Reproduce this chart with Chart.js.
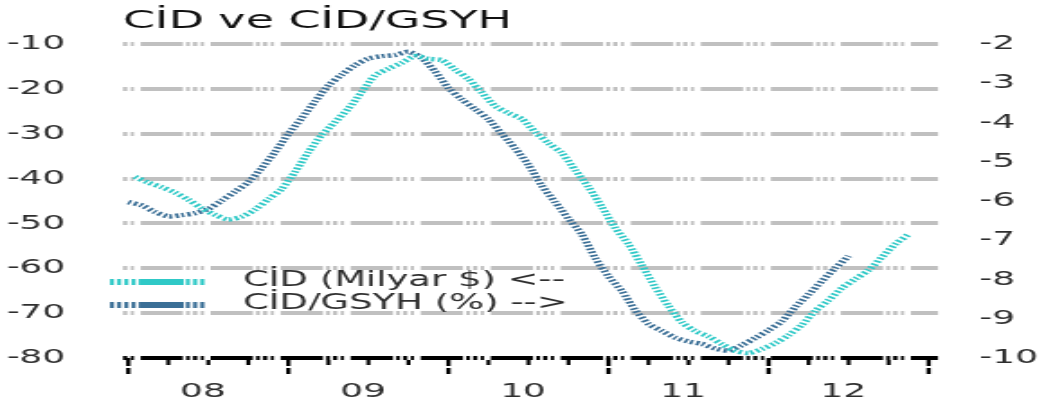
<!DOCTYPE html>
<html>
<head>
<meta charset="utf-8">
<script src="https://cdn.jsdelivr.net/npm/chart.js@4.4.1/dist/chart.umd.min.js"></script>
<style>
  html, body { margin: 0; padding: 0; background: #ffffff; overflow: hidden; }
  #wrap { width: 1044px; height: 405px; overflow: hidden; }
  #c { display: block; transform: scaleX(1.8); transform-origin: 0 0; }
</style>
</head>
<body>
<div id="wrap"><canvas id="c" width="580" height="405" style="width:580px;height:405px"></canvas></div>
<script>
// ---- Data (monthly, starting January 2008) ----
const titleText = 'CİD ve CİD/GSYH';
const yearLabels = ['08', '09', '10', '11', '12'];
const legendLabels = ['CİD (Milyar $) <--', 'CİD/GSYH (%) -->'];

// CİD, 12-month rolling, billion $ (left axis)
const cidValues = [
  -39.6, -40.9, -41.9, -43.1, -44.7, -46.6, -48.1, -49.1, -48.5, -46.9, -44.6, -42.3,
  -38.5, -34.1, -30.3, -27.4, -24.4, -20.7, -17.0, -15.5, -14.2, -12.7, -13.3, -13.6,
  -15.7, -17.8, -20.8, -23.8, -25.4, -26.7, -29.6, -32.1, -34.3, -38.1, -41.9, -46.3,
  -51.0, -54.6, -59.3, -64.2, -68.4, -72.0, -74.0, -75.2, -76.9, -78.4, -78.9, -78.0,
  -76.7, -74.9, -72.6, -69.5, -67.1, -64.4, -62.4, -60.4, -57.5, -54.6, -52.4
];
// CİD / GSYH, % (right axis)
const gsyhValues = [
  -6.03, -6.11, -6.28, -6.39, -6.36, -6.31, -6.20, -5.99, -5.76, -5.52, -5.16, -4.75,
  -4.29, -3.89, -3.46, -3.06, -2.78, -2.54, -2.37, -2.31, -2.28, -2.20, -2.36, -2.70,
  -3.12, -3.41, -3.66, -3.92, -4.29, -4.66, -5.08, -5.61, -6.03, -6.45, -6.85, -7.45,
  -7.92, -8.29, -8.78, -9.13, -9.31, -9.48, -9.58, -9.64, -9.76, -9.81, -9.67, -9.49,
  -9.29, -9.06, -8.70, -8.38, -8.04, -7.71, -7.40
];
const leftMin = -80, leftMax = -10, leftStep = 10;
const rightMin = -10, rightMax = -2, rightStep = 1;
const monthsTotal = 60;

// ---- Styles ----
const CYAN = '#2fc9c7';
const BLUE = '#3b6f96';
const GRID = '#c0c0c0';
const TEXT = '#2e2e2e';
const FONT = 'DejaVu Sans';
const DASH = [23.5, 1.8, 2.1, 1.7, 2.4, 1.9, 1.8, 3.7];

const cidPts = cidValues.map((v, i) => ({ x: i + 0.5, y: v }));
const gsyhPts = gsyhValues.map((v, i) => ({ x: i, y: v }));

const decorPlugin = {
  id: 'decor',
  beforeDatasetsDraw(chart) {
    const ctx = chart.ctx;
    const ca = chart.chartArea;
    const yl = chart.scales.yL;
    const xs = chart.scales.x;
    ctx.save();
    // gridlines
    ctx.setLineDash(DASH);
    ctx.lineDashOffset = 29.1;
    ctx.lineWidth = 4;
    ctx.strokeStyle = GRID;
    yl.ticks.forEach(t => {
      if (t.value === leftMin) return;
      const y = Math.round(yl.getPixelForValue(t.value));
      ctx.beginPath();
      ctx.moveTo(ca.left, y);
      ctx.lineTo(ca.right, y);
      ctx.stroke();
    });
    // x axis line
    const ay = Math.round(yl.getPixelForValue(leftMin));
    ctx.strokeStyle = '#000000';
    ctx.lineWidth = 4;
    ctx.beginPath();
    ctx.moveTo(ca.left, ay);
    ctx.lineTo(ca.right, ay);
    ctx.stroke();
    // tick marks
    ctx.setLineDash([]);
    ctx.fillStyle = '#000000';
    for (let m = 0; m <= monthsTotal; m += 3) {
      const x = xs.getPixelForValue(m);
      if (m % 12 === 0) {
        ctx.fillRect(x - 1.2, ay, 2.4, 8);
        ctx.fillRect(x - 1.2, ay + 10, 2.4, 6);
      } else {
        ctx.fillRect(x - 1.1, ay + 2, 2.2, 5);
      }
    }
    ctx.restore();
  },
  afterDraw(chart) {
    const ctx = chart.ctx;
    ctx.save();
    const items = [
      { color: CYAN, y: 282, text: legendLabels[0] },
      { color: BLUE, y: 305, text: legendLabels[1] }
    ];
    items.forEach(it => {
      ctx.setLineDash([2.2, 1.8, 2.2, 1.8, 2.2, 1.8, 2.2, 1.8, 25, 1.2, 2.2, 1.8, 2.2, 1.8, 2.2, 40]);
      ctx.lineWidth = 6;
      ctx.strokeStyle = it.color;
      ctx.beginPath();
      ctx.moveTo(61.1, it.y);
      ctx.lineTo(115.6, it.y);
      ctx.stroke();
      ctx.setLineDash([]);
      ctx.fillStyle = TEXT;
      ctx.font = '20.5px "' + FONT + '"';
      ctx.textBaseline = 'middle';
      ctx.textAlign = 'left';
      ctx.fillText(it.text, 135, it.y - 1);
    });
    ctx.restore();
  }
};

new Chart(document.getElementById('c'), {
  type: 'line',
  data: {
    datasets: [
      { label: legendLabels[0], data: cidPts, yAxisID: 'yL', borderColor: CYAN,
        borderWidth: 4.5, borderDash: [1.7, 1.7], pointRadius: 0, tension: 0.25, fill: false },
      { label: legendLabels[1], data: gsyhPts, yAxisID: 'yR', borderColor: BLUE,
        borderWidth: 4.5, borderDash: [1.7, 1.7], pointRadius: 0, tension: 0.25, fill: false }
    ]
  },
  options: {
    responsive: false,
    animation: false,
    devicePixelRatio: 1,
    layout: { padding: 0 },
    plugins: {
      legend: { display: false },
      tooltip: { enabled: false },
      title: {
        display: true, text: titleText, align: 'start', fullSize: false,
        color: '#111111', font: { family: FONT, size: 25.5, weight: 'normal' },
        padding: { top: 5.7, bottom: 7.7 }
      }
    },
    scales: {
      x: {
        type: 'linear', min: -0.4, max: 60.7,
        grid: { display: false, drawTicks: false },
        border: { display: false },
        afterBuildTicks: s => { s.ticks = yearLabels.map((_, i) => ({ value: i * 12 + 5.6 })); },
        afterFit: s => { s.height = 47; },
        ticks: {
          autoSkip: false, maxRotation: 0, padding: 22, color: TEXT,
          font: { family: FONT, size: 20 },
          callback: (v, i) => yearLabels[i]
        }
      },
      yL: {
        position: 'left', min: leftMin, max: leftMax,
        grid: { display: false, drawTicks: false },
        border: { display: false },
        afterFit: s => { s.width = 68.3; },
        ticks: { stepSize: leftStep, padding: 32, color: TEXT, font: { family: FONT, size: 20 } }
      },
      yR: {
        position: 'right', min: rightMin, max: rightMax,
        grid: { display: false, drawTicks: false },
        border: { display: false },
        afterFit: s => { s.width = 58.9; },
        ticks: { stepSize: rightStep, padding: 23, color: TEXT, font: { family: FONT, size: 20 } }
      }
    }
  },
  plugins: [decorPlugin]
});
</script>
</body>
</html>
